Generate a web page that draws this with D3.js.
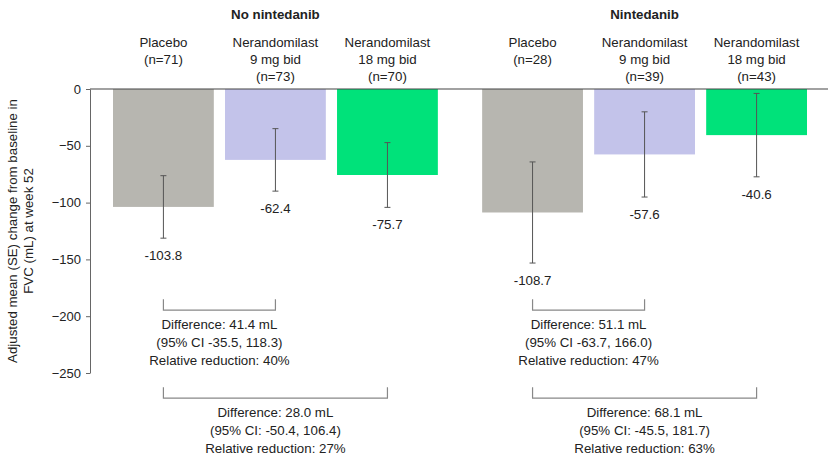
<!DOCTYPE html>
<html>
<head>
<meta charset="utf-8">
<script src="https://cdn.jsdelivr.net/npm/d3@7"></script>
<style>
  body { margin: 0; background: #fff; }
  text { font-family: "Liberation Sans", Arial, sans-serif; fill: #222; }
</style>
</head>
<body>
<svg id="chart"></svg>
<script>
// Data
const groups = ["No nintedanib", "Nintedanib"];
const treatments = ["Placebo", "Nerandomilast 9 mg bid", "Nerandomilast 18 mg bid"];
const treatmentLines = [["Placebo"], ["Nerandomilast", "9 mg bid"], ["Nerandomilast", "18 mg bid"]];
const nCounts = [[71, 73, 70], [28, 39, 43]];
const means = [[-103.8, -62.4, -75.7], [-108.7, -57.6, -40.6]];
const seValues = [[27.5, 27.5, 28.5], [44.5, 37.5, 36.7]];
const colors = ["#b7b6b0", "#c3c3ea", "#00e27a"];
const yTicks = [0, -50, -100, -150, -200, -250];

// comparisons vs placebo within each group: [nintedanib group][9 mg, 18 mg]
const diffs = [[41.4, 28.0], [51.1, 68.1]];
const ciLow = [[-35.5, -50.4], [-63.7, -45.5]];
const ciHigh = [[118.3, 106.4], [166.0, 181.7]];
const relReduction = [[40, 27], [47, 63]];
const ciColon = ["", ":"];

const width = 831, height = 469;
const svg = d3.select("#chart").attr("width", width).attr("height", height);

// Scales
const yScale = d3.scaleLinear().domain([-250, 0]).range([373, 89]);
const groupScale = d3.scaleBand().domain(groups).range([113, 807]).paddingInner(0.12);
const barScale = d3.scaleBand().domain(treatments).range([0, groupScale.bandwidth()]).paddingInner(0.1);
const cx = (g, t) => groupScale(groups[g]) + barScale(treatments[t]) + barScale.bandwidth() / 2;

// Y axis
const yAxis = d3.axisLeft(yScale).tickValues(yTicks).tickSize(4).tickPadding(5).tickSizeOuter(0);
const yAxisG = svg.append("g").attr("transform", "translate(90,0)").call(yAxis);
yAxisG.select(".domain").attr("stroke", "#666");
yAxisG.selectAll(".tick line").attr("stroke", "#666");
yAxisG.selectAll(".tick text").attr("font-size", 13).style("fill", "#222");

// Y axis title
const yTitle = svg.append("text")
    .attr("transform", "translate(17,231) rotate(-90)")
    .attr("text-anchor", "middle")
    .attr("font-size", 13.3);
yTitle.append("tspan").attr("x", 0).attr("dy", 0).text("Adjusted mean (SE) change from baseline in");
yTitle.append("tspan").attr("x", 0).attr("dy", 16).text("FVC (mL) at week 52");

groups.forEach(function (g, gi) {
    const gx = groupScale(g);

    // Group title
    svg.append("text")
        .attr("x", cx(gi, 1)).attr("y", 19)
        .attr("text-anchor", "middle")
        .attr("font-size", 13.3).attr("font-weight", "bold")
        .text(g);

    treatments.forEach(function (t, ti) {
        const x = gx + barScale(t);
        const m = means[gi][ti], se = seValues[gi][ti];

        // Bar
        svg.append("rect")
            .attr("x", x).attr("y", yScale(0))
            .attr("width", barScale.bandwidth())
            .attr("height", yScale(m) - yScale(0))
            .attr("fill", colors[ti]);

        // Error bar
        const ex = cx(gi, ti);
        svg.append("line")
            .attr("x1", ex).attr("x2", ex)
            .attr("y1", yScale(m + se)).attr("y2", yScale(m - se))
            .attr("stroke", "#555").attr("stroke-width", 1);
        [m + se, m - se].forEach(function (v) {
            svg.append("line")
                .attr("x1", ex - 3).attr("x2", ex + 3)
                .attr("y1", yScale(v)).attr("y2", yScale(v))
                .attr("stroke", "#555").attr("stroke-width", 1);
        });

        // Value label below the error bar
        svg.append("text")
            .attr("x", ex).attr("y", yScale(m - se) + 22)
            .attr("text-anchor", "middle").attr("font-size", 13.3)
            .text(m.toFixed(1));

        // Category label above the bars
        const lines = treatmentLines[ti].concat(["(n=" + nCounts[gi][ti] + ")"]);
        const lab = svg.append("text")
            .attr("text-anchor", "middle").attr("font-size", 13.3);
        lines.forEach(function (l, li) {
            lab.append("tspan").attr("x", ex).attr("y", 47 + li * 17).text(l);
        });
    });

    // Difference brackets
    [1, 2].forEach(function (ti, ci) {
        const x1 = cx(gi, 0), x2 = cx(gi, ti);
        const top = ci === 0 ? yScale(-185) : yScale(-262.5);
        const bottom = top + 11;
        svg.append("path")
            .attr("d", d3.line()([[x1, top], [x1, bottom], [x2, bottom], [x2, top]]))
            .attr("fill", "none").attr("stroke", "#888").attr("stroke-width", 1.2);
        const txt = [
            "Difference: " + diffs[gi][ci].toFixed(1) + " mL",
            "(95% CI" + ciColon[ci] + " " + ciLow[gi][ci].toFixed(1) + ", " + ciHigh[gi][ci].toFixed(1) + ")",
            "Relative reduction: " + relReduction[gi][ci] + "%"
        ];
        const t = svg.append("text").attr("text-anchor", "middle").attr("font-size", 13.3);
        txt.forEach(function (l, li) {
            t.append("tspan").attr("x", (x1 + x2) / 2).attr("y", bottom + 19 + li * 17.7).text(l);
        });
    });
});

// Zero baseline across the plot
svg.append("line")
    .attr("x1", 90).attr("x2", 828)
    .attr("y1", yScale(0)).attr("y2", yScale(0))
    .attr("stroke", "#444").attr("stroke-width", 1.2);
</script>
</body>
</html>
